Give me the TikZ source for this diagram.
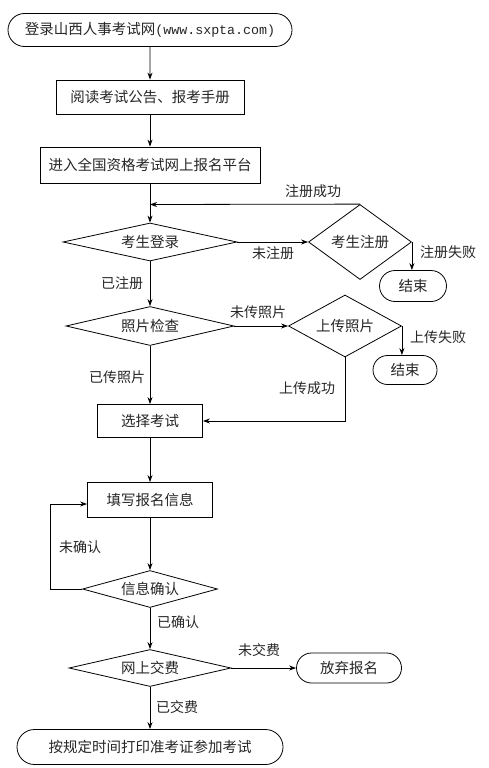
\documentclass[tikz,border=0pt]{standalone}
\usepackage{fontspec}
\setmainfont{Noto Sans CJK SC}
\newfontfamily\monof{Liberation Mono}
\usetikzlibrary{shapes.geometric,shapes.misc,arrows.meta}
\begin{document}
\begin{tikzpicture}[x=1pt,y=-1pt,
  every node/.style={font=\fontsize{14.5}{16}\selectfont, text=black!85},
  proc/.style={draw, rectangle, inner sep=0pt, line width=0.8pt},
  term/.style={draw, rounded rectangle, inner sep=0pt, line width=0.8pt},
  dec/.style={draw, diamond, inner sep=0pt, line width=0.8pt},
  lbl/.style={font=\fontsize{14}{16}\selectfont, inner sep=0pt},
  conn/.style={line width=0.8pt, -{Stealth[length=7pt,width=5pt]}},
  plain/.style={line width=0.8pt}]
\useasboundingbox (0,0) rectangle (488,768);
\fill[white] (0,0) rectangle (488,768);

% nodes
\node[term, minimum width=284pt, minimum height=33pt] (n1) at (150,30)
  {登录山西人事考试网{\monof\fontsize{13.3}{16}\selectfont(www.sxpta.com)}};
\node[proc, minimum width=188pt, minimum height=34pt] (n2) at (150,97) {阅读考试公告、报考手册};
\node[proc, minimum width=220pt, minimum height=36pt] (n3) at (150,165) {进入全国资格考试网上报名平台};
\node[dec, minimum width=174pt, minimum height=38pt, aspect=4.6] (d1) at (150,242) {考生登录};
\node[dec, minimum width=103pt, minimum height=75pt, aspect=1.37] (d2) at (360,242) {考生注册};
\node[term, minimum width=67pt, minimum height=31pt] (e1) at (413,286) {结束};
\node[dec, minimum width=168pt, minimum height=39pt, aspect=4.3] (d3) at (150,326) {照片检查};
\node[dec, minimum width=113pt, minimum height=62pt, aspect=1.8] (d4) at (345,326) {上传照片};
\node[term, minimum width=64pt, minimum height=29pt] (e2) at (405,370) {结束};
\node[proc, minimum width=105pt, minimum height=33pt] (p4) at (150,421) {选择考试};
\node[proc, minimum width=125pt, minimum height=35pt] (p5) at (150,500) {填写报名信息};
\node[dec, minimum width=135pt, minimum height=37pt, aspect=3.65] (d5) at (150,589) {信息确认};
\node[dec, minimum width=162pt, minimum height=37pt, aspect=4.4] (d6) at (150,668) {网上交费};
\node[term, minimum width=105pt, minimum height=30pt] (e3) at (349,668) {放弃报名};
\node[term, minimum width=266pt, minimum height=35pt] (e4) at (150,747) {按规定时间打印准考证参加考试};

% helper coordinates
\coordinate (j1) at (150,204.5);
\coordinate (lp) at (50,589);

% connectors
\draw[conn] (n1) -- (n2);
\draw[conn] (n2) -- (n3);
\draw[conn] (n3) -- (d1);
\draw[conn] (d2.north) -- (j1);
\draw[conn] (d1.east) -- (d2.west);
\draw[conn] (d2.east) -- (d2.east |- e1.north);
\draw[conn] (d1.south) -- (d3.north);
\draw[conn] (d3.east) -- (d4.west);
\draw[conn] (d4.east) -- (d4.east |- e2.north);
\draw[conn] (d4.south) |- (p4.east);
\draw[conn] (d3.south) -- (p4.north);
\draw[conn] (p4) -- (p5);
\draw[conn] (p5) -- (d5);
\draw[conn] (d5.west) -- (lp) |- ([yshift=-4pt]p5.west);
\draw[conn] (d5.south) -- (d6.north);
\draw[conn] (d6.east) -- (e3.west);
\draw[conn] (d6.south) -- (e4.north);

% labels
\node[lbl] (l1) at (313,191) {注册成功};
\node[lbl] (l2) at (273,253) {未注册};
\node[lbl] (l3) at (448,252) {注册失败};
\node[lbl] (l4) at (122,283) {已注册};
\node[lbl] (l5) at (258,312) {未传照片};
\node[lbl] (l6) at (438,337) {上传失败};
\node[lbl] (l7) at (307,388) {上传成功};
\node[lbl] (l8) at (117,377) {已传照片};
\node[lbl] (l9) at (80,547) {未确认};
\node[lbl] (l10) at (178,622) {已确认};
\node[lbl] (l11) at (259,650) {未交费};
\node[lbl] (l12) at (177,707) {已交费};
\end{tikzpicture}
\end{document}
